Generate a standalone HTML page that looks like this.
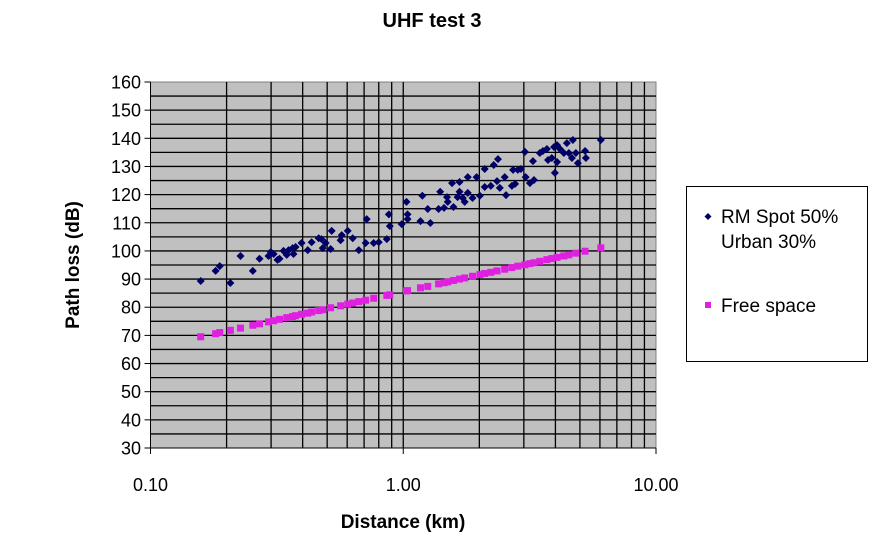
<!DOCTYPE html>
<html><head><meta charset="utf-8"><style>
html,body{margin:0;padding:0;background:#fff;}
svg{display:block;font-family:"Liberation Sans",Arial,sans-serif;}
</style></head><body>
<svg id="chart" width="888" height="542" viewBox="0 0 888 542">
<text x="432" y="27" text-anchor="middle" font-size="20" font-weight="bold">UHF test 3</text>
<g id="plot"></g>
<text x="403" y="528" text-anchor="middle" font-size="19" font-weight="bold">Distance (km)</text>
<text transform="translate(79,265) rotate(-90)" text-anchor="middle" font-size="19" font-weight="bold">Path loss (dB)</text>
<g>
<rect x="686.5" y="186.5" width="181" height="175" fill="#fff" stroke="#000"/>
<g>
<path d="M708,213 l3.5,3.5 l-3.5,3.5 l-3.5,-3.5z" fill="#000066"/>
<text x="721" y="223" font-size="19">RM Spot 50%</text>
<text x="721" y="248" font-size="19">Urban 30%</text>
</g>
<g>
<rect x="705" y="302" width="6" height="6" fill="#e020e0"/>
<text x="721" y="312" font-size="19">Free space</text>
</g>
</g>
</svg>
<script>
const rmX=[0.158,0.181,0.188,0.207,0.227,0.254,0.270,0.293,0.299,0.307,0.318,0.324,0.336,0.346,0.352,0.365,0.368,0.375,0.396,0.419,0.434,0.463,0.475,0.480,0.493,0.516,0.521,0.565,0.571,0.603,0.631,0.667,0.710,0.717,0.764,0.800,0.861,0.877,0.885,0.986,1.03,1.04,1.04,1.17,1.19,1.25,1.28,1.38,1.40,1.45,1.49,1.50,1.56,1.58,1.64,1.67,1.67,1.72,1.75,1.80,1.80,1.88,1.95,2.01,2.10,2.10,2.22,2.28,2.35,2.37,2.41,2.52,2.55,2.69,2.72,2.77,2.84,2.92,3.03,3.05,3.17,3.26,3.29,3.47,3.57,3.70,3.74,3.87,3.95,3.98,4.06,4.06,4.17,4.32,4.44,4.52,4.65,4.69,4.82,4.91,5.24,5.28,6.05];
const rmY=[89.3,92.9,94.6,88.6,98.2,92.9,97.2,98.2,99.6,98.9,96.8,97.2,100.0,98.6,100.3,101.0,98.9,101.4,102.8,100.3,103.1,104.5,104.2,101.0,102.8,100.7,107.1,103.8,105.6,107.1,104.5,100.3,102.8,111.3,102.8,103.1,104.2,113.0,108.8,109.5,117.4,113.0,111.3,110.6,119.6,114.9,109.9,114.9,121.0,115.3,119.1,117.4,124.1,115.6,119.1,124.5,121.0,118.8,117.4,120.6,126.2,118.8,126.2,119.6,129.1,122.7,123.1,130.5,124.8,132.6,122.4,126.2,119.8,123.1,128.8,123.8,128.8,129.1,135.2,126.2,124.1,131.9,125.2,134.8,135.5,136.2,132.3,133.0,136.9,127.7,137.6,131.6,136.2,134.8,138.3,134.8,133.0,139.4,134.8,131.2,135.5,133.0,139.4];
const fsX=[0.158,0.181,0.188,0.207,0.227,0.254,0.270,0.293,0.307,0.324,0.346,0.365,0.375,0.396,0.419,0.434,0.463,0.480,0.516,0.565,0.603,0.631,0.667,0.710,0.764,0.861,0.885,1.03,1.04,1.17,1.25,1.38,1.45,1.50,1.58,1.67,1.75,1.88,2.01,2.10,2.22,2.35,2.52,2.69,2.84,3.03,3.17,3.29,3.47,3.70,3.87,4.06,4.32,4.52,4.82,5.24,6.05];
const fsY=[69.5,70.6,71.0,71.8,72.6,73.6,74.1,74.8,75.2,75.7,76.3,76.7,77.0,77.5,77.9,78.3,78.8,79.1,79.8,80.5,81.1,81.5,82.0,82.5,83.2,84.2,84.4,85.8,85.9,86.9,87.4,88.3,88.7,89.0,89.5,90.0,90.4,91.0,91.6,92.0,92.4,92.9,93.5,94.1,94.6,95.1,95.5,95.8,96.3,96.9,97.3,97.7,98.2,98.6,99.2,99.9,101.1];
const yTicks=[30,40,50,60,70,80,90,100,110,120,130,140,150,160];
const xTickVals=[0.1,1,10];
const xTickLabels=["0.10","1.00","10.00"];

const NS="http://www.w3.org/2000/svg";
const L=150.5,R=656,T=82,B=448;
const yMin=30,yMax=160;
function sx(v){return L+(Math.log10(v)+1)/2*(R-L);}
function sy(v){return B-(v-yMin)/(yMax-yMin)*(B-T);}
const g=document.getElementById('plot');
function el(tag,attrs,parent){const e=document.createElementNS(NS,tag);for(const k in attrs)e.setAttribute(k,attrs[k]);(parent||g).appendChild(e);return e;}
el('rect',{x:L,y:T,width:R-L,height:B-T,fill:'#c0c0c0',stroke:'#808080'});
for(let v=yMin+5;v<yMax;v+=5){
  const ln=el('line',{x1:L,x2:R,y1:sy(v),y2:sy(v),stroke:'#000','stroke-width':1.3});
  
  
}
for(let d=0.1;d<10;d*=10){
  for(let m=2;m<=10;m++){
    const v=d*m; if(v>=10) break;
    const ln=el('line',{x1:sx(v),x2:sx(v),y1:T,y2:B,stroke:'#000','stroke-width':1.3});
    
    
  }
}
el('line',{x1:L,x2:L,y1:T,y2:B,stroke:'#000'});
el('line',{x1:L,x2:R,y1:B,y2:B,stroke:'#000'});
yTicks.forEach(v=>{
  const tk=el('line',{x1:L-6,x2:L,y1:sy(v),y2:sy(v),stroke:'#000'});
  
  
  const t=el('text',{x:141,y:sy(v)+6.5,'text-anchor':'end','font-size':18});
  t.textContent=v;
  
  
});
xTickVals.forEach((v,i)=>{
  const tk=el('line',{x1:sx(v),x2:sx(v),y1:B,y2:B+6,stroke:'#000'});
  
  
  const t=el('text',{x:sx(v),y:491,'text-anchor':'middle','font-size':18});
  t.textContent=xTickLabels[i];
  
  
});
fsX.forEach((x,i)=>{
  const px=sx(x),py=sy(fsY[i]);
  const r=el('rect',{x:px-3.5,y:py-3.5,width:7,height:7,fill:'#e020e0'});
  
  
});
rmX.forEach((x,i)=>{
  const px=sx(x),py=sy(rmY[i]);
  const p=el('path',{d:`M${px},${py-4}L${px+4},${py}L${px},${py+4}L${px-4},${py}Z`,fill:'#000066'});
  
  
});
</script>
</body></html>
